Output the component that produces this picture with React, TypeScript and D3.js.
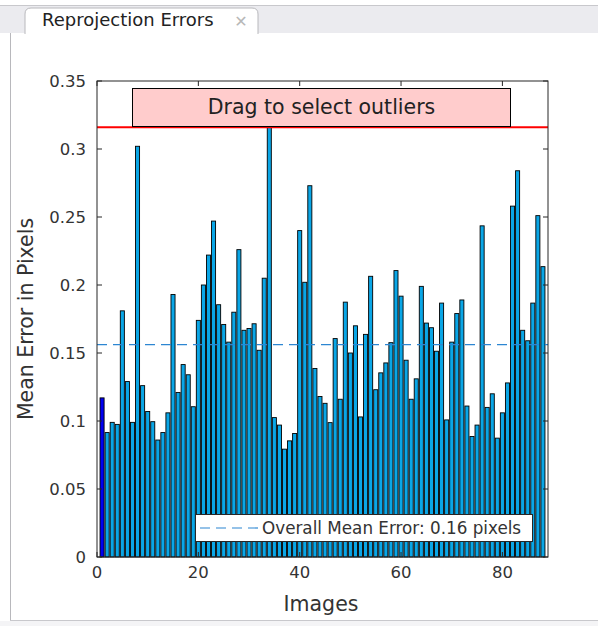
import React, { useEffect, useRef } from "react";
import * as d3 from "d3";

// mean reprojection error per image (pixels)
const errors = [
  0.117, 0.0915, 0.099, 0.0975, 0.181, 0.129, 0.099, 0.302, 0.126, 0.107,
  0.0995, 0.086, 0.0915, 0.106, 0.193, 0.121, 0.1415, 0.134, 0.1105, 0.174,
  0.2, 0.222, 0.247, 0.1855, 0.171, 0.158, 0.18, 0.226, 0.1667, 0.168,
  0.1715, 0.152, 0.205, 0.316, 0.1025, 0.097, 0.0793, 0.0854, 0.0908, 0.24,
  0.202, 0.273, 0.1386, 0.118, 0.113, 0.0988, 0.1606, 0.116, 0.1874, 0.15,
  0.17, 0.103, 0.1637, 0.2064, 0.123, 0.1354, 0.1427, 0.1576, 0.2106, 0.1918,
  0.1447, 0.116, 0.131, 0.199, 0.172, 0.1686, 0.1513, 0.1867, 0.1008, 0.158,
  0.179, 0.189, 0.111, 0.0886, 0.097, 0.2435, 0.11, 0.12, 0.0874, 0.106,
  0.128, 0.258, 0.284, 0.1667, 0.159, 0.1867, 0.251, 0.2135,
];
const selectedImages = [1];
const outlierThreshold = 0.316;
const xTicks = [0, 20, 40, 60, 80];
const yTicks = [0, 0.05, 0.1, 0.15, 0.2, 0.25, 0.3, 0.35];

const W = 598;
const H = 626;
const FONT = "DejaVu Sans, sans-serif";

const App = () => {
  const ref = useRef<SVGSVGElement>(null);

  useEffect(() => {
    const svg = d3.select(ref.current);
    svg.selectAll("*").remove();

    // window chrome: tab strip + panel
    svg.append("rect").attr("width", W).attr("height", H).attr("fill", "#ffffff");
    svg.append("rect").attr("x", 0).attr("y", 5).attr("width", W).attr("height", 28).attr("fill", "#ebebef");
    svg.append("line").attr("x1", 0).attr("x2", W).attr("y1", 5.5).attr("y2", 5.5).attr("stroke", "#c8c8cc");
    svg.append("line").attr("x1", 10).attr("x2", W).attr("y1", 33.5).attr("y2", 33.5).attr("stroke", "#b8b8bc");
    svg.append("rect").attr("x", 10).attr("y", 33).attr("width", W).attr("height", 587).attr("fill", "#ffffff");
    svg.append("line").attr("x1", 10.5).attr("x2", 10.5).attr("y1", 33).attr("y2", 620).attr("stroke", "#b8b8bc");
    svg.append("line").attr("x1", 10).attr("x2", W).attr("y1", 620.5).attr("y2", 620.5).attr("stroke", "#c8c8cc");
    svg.append("rect").attr("x", 0).attr("y", 621).attr("width", W).attr("height", 5).attr("fill", "#f4f4f6");
    svg.append("path")
      .attr("d", "M25,34 L25,14 Q25,8 31,8 L252,8 Q258,8 258,14 L258,34")
      .attr("fill", "#ffffff").attr("stroke", "#b8b8bc");
    svg.append("text").attr("x", 42).attr("y", 26).attr("font-family", FONT).attr("font-size", 18)
      .attr("fill", "#222").text("Reprojection Errors");
    svg.append("text").attr("x", 241).attr("y", 27).attr("text-anchor", "middle").attr("font-family", FONT)
      .attr("font-size", 16).attr("font-weight", "bold").attr("fill", "#b8b8b8").text("✕");

    const x = d3.scaleLinear().domain([0, 89]).range([97, 548]);
    const y = d3.scaleLinear().domain([0, 0.35]).range([557, 81]);
    const barW = x(0.8) - x(0);
    const mean = d3.mean(errors) as number;

    const g = svg.append("g");

    // bars
    g.selectAll("rect.bar")
      .data(errors)
      .enter()
      .append("rect")
      .attr("class", "bar")
      .attr("x", (_, i) => x(i + 1) - barW / 2)
      .attr("y", (d) => y(d))
      .attr("width", barW)
      .attr("height", (d) => y(0) - y(d))
      .attr("fill", (_, i) => (selectedImages.includes(i + 1) ? "#0000f0" : "#0aa6e6"))
      .attr("stroke", "#000")
      .attr("stroke-width", 0.9);

    // mean line
    g.append("line")
      .attr("x1", x(0)).attr("x2", x(89))
      .attr("y1", y(mean)).attr("y2", y(mean))
      .attr("stroke", "#2d86d2").attr("stroke-width", 1.2).attr("stroke-dasharray", "10,6");

    // threshold line
    g.append("line")
      .attr("x1", x(0)).attr("x2", x(89))
      .attr("y1", y(outlierThreshold)).attr("y2", y(outlierThreshold))
      .attr("stroke", "#ff0000").attr("stroke-width", 2);

    // box + ticks
    g.append("rect").attr("x", x(0)).attr("y", y(0.35)).attr("width", x(89) - x(0)).attr("height", y(0) - y(0.35))
      .attr("fill", "none").attr("stroke", "#262626").attr("stroke-width", 1);

    const tk = 5;
    xTicks.forEach((t) => {
      g.append("line").attr("x1", x(t)).attr("x2", x(t)).attr("y1", y(0)).attr("y2", y(0) - tk).attr("stroke", "#262626");
      g.append("line").attr("x1", x(t)).attr("x2", x(t)).attr("y1", y(0.35)).attr("y2", y(0.35) + tk).attr("stroke", "#262626");
      g.append("text").attr("x", x(t)).attr("y", y(0) + 21).attr("text-anchor", "middle")
        .attr("font-family", FONT).attr("font-size", 16.5).attr("fill", "#333").text(d3.format("d")(t));
    });
    yTicks.forEach((t) => {
      g.append("line").attr("x1", x(0)).attr("x2", x(0) + tk).attr("y1", y(t)).attr("y2", y(t)).attr("stroke", "#262626");
      g.append("line").attr("x1", x(89)).attr("x2", x(89) - tk).attr("y1", y(t)).attr("y2", y(t)).attr("stroke", "#262626");
      g.append("text").attr("x", x(0) - 11).attr("y", y(t) + 6).attr("text-anchor", "end")
        .attr("font-family", FONT).attr("font-size", 16.5).attr("fill", "#333").text(String(t));
    });

    // axis labels
    g.append("text").attr("x", 321).attr("y", 611).attr("text-anchor", "middle")
      .attr("font-family", FONT).attr("font-size", 20.5).attr("fill", "#333").text("Images");
    g.append("text").attr("transform", `translate(33,${(y(0) + y(0.35)) / 2}) rotate(-90)`).attr("text-anchor", "middle")
      .attr("font-family", FONT).attr("font-size", 20.5).attr("fill", "#333").text("Mean Error in Pixels");

    // drag hint
    g.append("rect").attr("x", 132.5).attr("y", 88.5).attr("width", 378).attr("height", 38)
      .attr("fill", "#ffcccc").attr("stroke", "#000").attr("stroke-width", 1);
    g.append("text").attr("x", 321.5).attr("y", 114).attr("text-anchor", "middle")
      .attr("font-family", FONT).attr("font-size", 20.5).attr("fill", "#222").text("Drag to select outliers");

    // legend
    g.append("rect").attr("x", 195.5).attr("y", 514.5).attr("width", 337).attr("height", 27)
      .attr("fill", "#fff").attr("stroke", "#262626").attr("stroke-width", 1);
    g.append("line").attr("x1", 200).attr("x2", 259).attr("y1", 528).attr("y2", 528)
      .attr("stroke", "#2d86d2").attr("stroke-width", 1.2).attr("stroke-dasharray", "10,6");
    g.append("text").attr("x", 262).attr("y", 534).attr("font-family", FONT).attr("font-size", 16.8)
      .attr("fill", "#333").text(`Overall Mean Error: ${mean.toFixed(2)} pixels`);
  }, []);

  return (
    <svg ref={ref} width={W} height={H} style={{ position: "absolute", left: 0, top: 0 }} />
  );
};

export default App;
